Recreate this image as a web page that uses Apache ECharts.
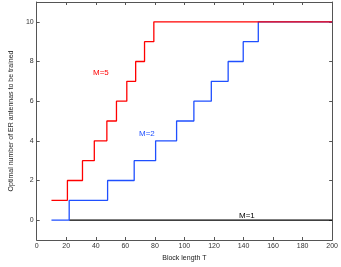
<!DOCTYPE html>
<html><head><meta charset="utf-8">
<script src="https://cdn.jsdelivr.net/npm/echarts@6/dist/echarts.min.js"></script>
<style>html,body{margin:0;padding:0;background:#fff}#c{width:341px;height:267px}</style>
</head><body><div id="c"></div>
<script>
// Step change points (block length T) and the level reached
const m5T = [10, 20.8, 31, 39, 47.5, 54, 61, 67, 73, 79.3, 200];
const m5Y = [1, 2, 3, 4, 5, 6, 7, 8, 9, 10, 10];
const m2T = [10, 22, 48, 66, 80.5, 94.7, 106.4, 118.2, 129.6, 139.8, 150, 200];
const m2Y = [0, 1, 2, 3, 4, 5, 6, 7, 8, 9, 10, 10];
const m1T = [22, 200];
const m1Y = [0, 0];
const yTicks = [0, 2, 4, 6, 8, 10];
const xLabel = 'Block length T';
const yLabel = 'Optimal number of ER antennas to be trained';

const zip = (a, b) => a.map((v, i) => [v, b[i]]);
const font = 'Liberation Sans';
const lineC = '#555';
const chart = echarts.init(document.getElementById('c'));
chart.setOption({
  animation: false,
  grid: { left: 22, right: 8, top: 2, bottom: 20 },
  xAxis: [
    { type: 'value', min: 0, max: 200, interval: 20, position: 'bottom',
      axisLine: { onZero: false, lineStyle: { color: lineC, width: 1 } }, splitLine: { show: false },
      axisTick: { inside: true, length: 3, lineStyle: { color: lineC } },
      axisLabel: { fontSize: 7, color: '#333', margin: 3, fontFamily: font },
      name: xLabel, nameLocation: 'middle', nameGap: 15,
      nameTextStyle: { fontSize: 7, color: '#222', fontFamily: font } },
    { type: 'value', min: 0, max: 200, interval: 20, position: 'top',
      axisLine: { onZero: false, lineStyle: { color: lineC, width: 1 } }, splitLine: { show: false },
      axisTick: { inside: true, length: 3, lineStyle: { color: lineC } },
      axisLabel: { show: false } }
  ],
  yAxis: [
    { type: 'value', min: -1, max: 11, position: 'left',
      axisLine: { show: true, onZero: false, lineStyle: { color: lineC, width: 1 } }, splitLine: { show: false },
      axisTick: { show: true, inside: true, length: 3, customValues: yTicks, lineStyle: { color: lineC } },
      axisLabel: { fontSize: 7, color: '#333', margin: 3, customValues: yTicks, fontFamily: font },
      name: yLabel, nameLocation: 'middle', nameGap: 16, nameRotate: 90,
      nameTextStyle: { fontSize: 7, color: '#222', fontFamily: font } },
    { type: 'value', min: -1, max: 11, position: 'right',
      axisLine: { show: true, onZero: false, lineStyle: { color: lineC, width: 1 } }, splitLine: { show: false },
      axisTick: { show: true, inside: true, length: 3, customValues: yTicks, lineStyle: { color: lineC } },
      axisLabel: { show: false } }
  ],
  series: [
    { type: 'line', name: 'M=1', data: zip(m1T, m1Y), step: 'end', symbol: 'none',
      lineStyle: { color: '#000', width: 1.3 } },
    { type: 'line', name: 'M=2', data: zip(m2T, m2Y), step: 'end', symbol: 'none',
      lineStyle: { color: '#1f4fff', width: 1.3 } },
    { type: 'line', name: 'M=5', data: zip(m5T, m5Y), step: 'end', symbol: 'none',
      lineStyle: { color: '#ff0000', width: 1.3 } }
  ],
  graphic: [
    { type: 'text', left: 93, top: 69, style: { text: 'M=5', fill: '#ff0000', fontSize: 8, fontFamily: font } },
    { type: 'text', left: 139, top: 130, style: { text: 'M=2', fill: '#1f4fff', fontSize: 8, fontFamily: font } },
    { type: 'text', left: 239, top: 212, style: { text: 'M=1', fill: '#000', fontSize: 8, fontFamily: font } }
  ]
});
</script>
</body></html>
